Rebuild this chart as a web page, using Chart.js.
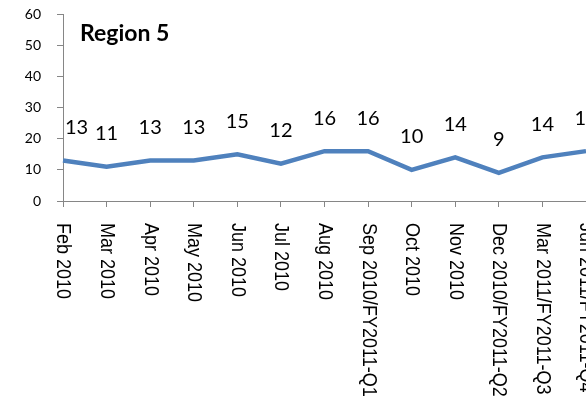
<!DOCTYPE html>
<html>
<head>
<meta charset="utf-8">
<script src="https://cdn.jsdelivr.net/npm/chart.js@4/dist/chart.umd.min.js"></script>
<style>
  html, body { margin: 0; padding: 0; background: #fff; overflow: hidden; }
  #wrap { width: 620px; height: 409px; }
</style>
</head>
<body>
<div id="wrap"><canvas id="chart1" width="620" height="409"></canvas></div>
<script>
// Datos del grafico
const meses = ["Feb 2010", "Mar 2010", "Apr 2010", "May 2010", "Jun 2010", "Jul 2010", "Aug 2010",
    "Sep 2010/FY2011-Q1", "Oct 2010", "Nov 2010", "Dec 2010/FY2011-Q2", "Mar 2011/FY2011-Q3", "Jun 2011/FY2011-Q4"];
const valores = [13, 11, 13, 13, 15, 12, 16, 16, 10, 14, 9, 14, 16];
const titulo = "Region 5";

// Etiquetas del eje x giradas hacia abajo, etiquetas de datos y titulo
const etiquetasPlugin = {
    id: "etiquetas",
    afterDraw(chart) {
        const ctx = chart.ctx;
        const area = chart.chartArea;
        const xs = chart.scales.x;

        // eje x: texto de arriba hacia abajo
        ctx.save();
        ctx.fillStyle = "#000";
        ctx.font = "20px 'Liberation Sans'";
        ctx.textAlign = "left";
        ctx.textBaseline = "middle";
        meses.forEach(function (m, i) {
            const x = xs.getPixelForTick(i);
            ctx.save();
            ctx.translate(x, area.bottom + 22);
            ctx.rotate(Math.PI / 2);
            ctx.scale(0.9, 1);
            ctx.fillText(m, 0, 0);
            ctx.restore();
        });
        ctx.restore();

        // valores sobre la linea
        const meta = chart.getDatasetMeta(0);
        ctx.save();
        ctx.fillStyle = "#000";
        ctx.font = "20px Lato";
        ctx.textAlign = "center";
        ctx.textBaseline = "middle";
        meta.data.forEach(function (pt, i) {
            const txt = String(valores[i]);
            const w = ctx.measureText(txt).width;
            let x = pt.x;
            if (x - w / 2 < area.left + 2) x = area.left + 2 + w / 2;
            ctx.fillText(txt, x, pt.y - 33);
        });
        ctx.restore();

        // titulo
        ctx.save();
        ctx.fillStyle = "#000";
        ctx.font = "bold 23px Lato";
        ctx.textAlign = "left";
        ctx.textBaseline = "middle";
        ctx.fillText(titulo, area.left + 17, area.top + 20);
        ctx.restore();
    }
};

new Chart("chart1", {
    type: "line",
    data: {
        labels: meses,
        datasets: [{
            data: valores,
            borderColor: "#4F81BD",
            borderWidth: 4.5,
            pointRadius: 0,
            tension: 0,
            fill: false
        }]
    },
    options: {
        responsive: false,
        animation: false,
        layout: { autoPadding: false, padding: { top: 14, right: 34, bottom: 0, left: 0 } },
        plugins: {
            legend: { display: false },
            tooltip: { enabled: false }
        },
        scales: {
            x: {
                offset: false,
                grid: { drawOnChartArea: false, drawTicks: true, tickLength: 6, color: "#868686" },
                border: { color: "#868686", width: 1 },
                ticks: { display: false },
                afterFit: function (scale) { scale.height = 208; }
            },
            y: {
                min: 0,
                max: 60,
                ticks: { stepSize: 10, color: "#000", padding: 16, font: { family: "Lato", size: 14 } },
                grid: { drawOnChartArea: false, drawTicks: true, tickLength: 6, color: "#868686" },
                border: { color: "#868686", width: 1 },
                afterFit: function (scale) {
                    scale.width = 63;
                    scale.paddingTop = 0;
                    scale.paddingBottom = 0;
                }
            }
        }
    },
    plugins: [etiquetasPlugin]
});
</script>
</body>
</html>
